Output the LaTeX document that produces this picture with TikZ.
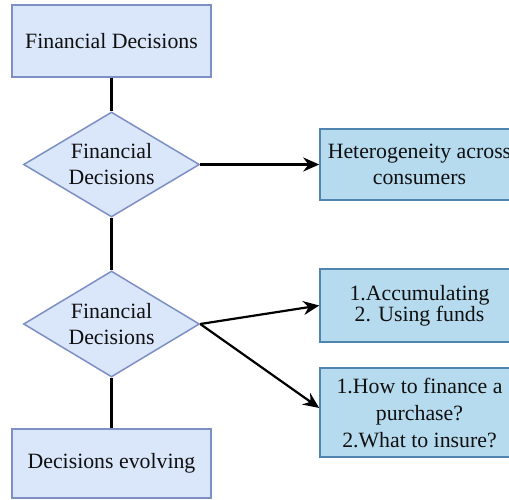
\documentclass[tikz,border=0pt]{standalone}
\usepackage{fontspec}
\setmainfont{Liberation Serif}
\usetikzlibrary{shapes.geometric,arrows.meta}

\definecolor{lavfill}{HTML}{DAE6FA}
\definecolor{lavdraw}{HTML}{7D8FC4}
\definecolor{skyfill}{HTML}{B6DAEE}
\definecolor{skydraw}{HTML}{4F84AE}
\definecolor{inkc}{HTML}{101010}

\tikzset{
  every node/.style={font=\rmfamily\fontsize{21.8}{26}\selectfont, text=inkc, align=center, inner sep=0pt},
  graybox/.style={rectangle, draw=lavdraw, fill=lavfill, line width=1.5pt},
  choice/.style={diamond, draw=lavdraw, fill=lavfill, line width=1.5pt, aspect=1.68},
  infobox/.style={rectangle, draw=skydraw, fill=skyfill, line width=1.5pt,
    minimum width=199pt},
  link/.style={draw=black, line width=2.2pt},
  flow/.style={link, -{Stealth[length=16pt, width=14pt]}},
}

\begin{document}
\begin{tikzpicture}[x=1pt, y=-1pt]
  \useasboundingbox (0,0) rectangle (509,500);
  \fill[white] (0,0) rectangle (509,500);
  \clip (0,0) rectangle (509,500);

  % left column
  \node[graybox, minimum width=199pt, minimum height=72pt] (top) at (111.5,41) {Financial Decisions};
  \node[choice, minimum width=176pt, minimum height=105pt] (d1) at (111.5,164.5) {Financial\\Decisions};
  \node[choice, minimum width=176pt, minimum height=106pt] (d2) at (111.5,324) {Financial\\Decisions};
  \node[graybox, minimum width=199pt, minimum height=69pt] (bot) at (111.5,463.5) {Decisions evolving};

  % right column
  \node[infobox, minimum height=71pt] (b1) at (419.5,164.5) {Heterogeneity across\\consumers};
  \node[infobox, minimum height=73pt, font=\rmfamily\fontsize{21.8}{21}\selectfont] (b2) at (419.5,305.5) {1.Accumulating\\2. Using funds};
  \node[infobox, minimum height=89pt, font=\rmfamily\fontsize{21.8}{27}\selectfont] (b3) at (419.5,412.5) {1.How to finance a\\purchase?\\2.What to insure?};

  % connectors
  \draw[link] (top.south) -- (d1.north);
  \draw[link] (d1.south) -- (d2.north);
  \draw[link] (d2.south) -- (bot.north);
  \draw[flow] (d1.east) -- (b1.west);
  \draw[flow] (d2.east) -- (b2.west);
  \draw[flow] (d2.east) -- ([yshift=4.5pt]b3.west);
\end{tikzpicture}
\end{document}
